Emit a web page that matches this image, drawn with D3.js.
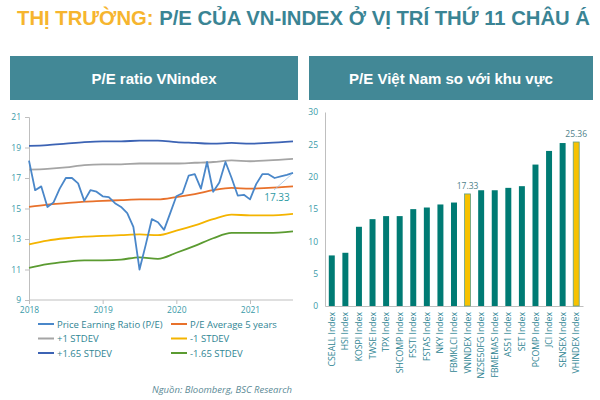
<!DOCTYPE html>
<html><head><meta charset="utf-8">
<script src="https://cdn.jsdelivr.net/npm/d3@7"></script>
<style>body{margin:0;background:#fff}svg{display:block}</style>
</head><body>
<svg id="c" width="600" height="400"></svg>
<script>
// ---------- DATA ----------
const peMonths = d3.range(44); // Jan 2018 .. Aug 2021 (month offsets)
const peValues = [18.14,16.2,16.45,15.1,15.4,16.3,17.0,17.0,16.65,15.5,16.2,16.1,
  15.8,15.75,15.35,15.1,14.7,13.8,11.0,12.6,14.3,14.1,13.6,14.7,
  15.8,16.0,17.15,17.25,16.3,18.05,16.1,16.7,18.05,17.0,15.85,15.9,
  15.6,16.6,17.25,17.25,17.0,17.1,17.2,17.33];
const bandMonths = [0,3,6,9,12,15,18,21,24,27,30,33,36,39,43];
const plus165 = [19.1,19.15,19.25,19.35,19.4,19.4,19.45,19.45,19.35,19.3,19.25,19.3,19.25,19.3,19.4];
const plus1 = [17.55,17.6,17.7,17.85,17.9,17.9,17.95,17.95,17.95,18.0,18.05,18.15,18.1,18.15,18.25];
const avg5 = [15.1,15.25,15.35,15.45,15.5,15.55,15.6,15.6,15.75,15.95,16.2,16.35,16.3,16.35,16.45];
const minus1 = [12.65,12.9,13.05,13.15,13.2,13.25,13.3,13.25,13.55,13.9,14.3,14.6,14.55,14.55,14.65];
const minus165 = [11.1,11.35,11.5,11.6,11.6,11.65,11.8,11.7,12.1,12.55,13.05,13.4,13.4,13.4,13.5];
const yearTicks = [2018,2019,2020,2021];
const peTicks = [9,11,13,15,17,19,21];
const legendNames = ["Price Earning Ratio (P/E)","P/E Average 5 years","+1 STDEV","-1 STDEV","+1.65 STDEV","-1.65 STDEV"];

const barCategories = ["CSEALL Index","HSI Index","KOSPI Index","TWSE Index","TPX Index","SHCOMP Index","FSSTI Index","FSTAS Index","NKY Index","FBMKLCI Index","VNINDEX Index","NZSE50FG Index","FBMEMAS Index","AS51 Index","SET Index","PCOMP Index","JCI Index","SENSEX Index","VHINDEX Index"];
const barValues = [7.82,8.23,12.25,13.43,13.9,13.9,14.98,15.23,15.7,16.0,17.33,17.9,17.9,18.27,18.53,21.87,23.98,25.2,25.36];
const barHighlight = ["VNINDEX Index","VHINDEX Index"];
const barTicks = [0,5,10,15,20,25,30];

// ---------- DRAW ----------
const svg = d3.select("#c");
const teal = "#3a8494", tickCol = "#3a9aa8", axisCol = "#bfbfbf";

// Title
const title = svg.append("text").attr("x",17).attr("y",25)
  .attr("font-family","'Liberation Sans Narrow','Arial Narrow',sans-serif")
  .attr("font-weight","bold").attr("font-size",20)
  .attr("textLength",573).attr("lengthAdjust","spacingAndGlyphs");
title.append("tspan").attr("fill","#f6b52e").text("THỊ TRƯỜNG: ");
title.append("tspan").attr("fill",teal).text("P/E CỦA VN-INDEX Ở VỊ TRÍ THỨ 11 CHÂU Á");

// Header boxes
[[10,298,"P/E ratio VNindex"],[309,593,"P/E Việt Nam so với khu vực"]].forEach(([x0,x1,t])=>{
  svg.append("rect").attr("x",x0).attr("y",56).attr("width",x1-x0).attr("height",44).attr("fill","#428896");
  svg.append("text").attr("x",(x0+x1)/2).attr("y",84).attr("text-anchor","middle")
    .attr("fill","#fff").attr("font-family","'Liberation Sans',Arial,sans-serif")
    .attr("font-weight","bold").attr("font-size",15).text(t);
});

// ---- Left chart ----
const x = d3.scaleLinear().domain([0,43]).range([29, 293]);
const xYear = d3.scaleLinear().domain([2018,2021]).range([29, 250]);
const y = d3.scaleLinear().domain([9,21]).range([300,117]);
const gL = svg.append("g");
const yAx = gL.append("g").attr("transform","translate(29,0)")
  .call(d3.axisLeft(y).tickValues(peTicks).tickSize(4).tickPadding(4));
const xAx = gL.append("g").attr("transform","translate(0,300)")
  .call(d3.axisBottom(xYear).tickValues(yearTicks).tickFormat(d3.format("d")).tickSize(4).tickPadding(3));
[yAx,xAx].forEach(a=>{
  a.select(".domain").attr("stroke",axisCol);
  a.selectAll(".tick line").attr("stroke",axisCol);
  a.selectAll("text").attr("fill",tickCol).attr("font-family","'Open Sans',sans-serif").attr("font-size",8.5);
});
xAx.select(".domain").attr("d","M29,0H293");

const bands = [
  {vals:plus165,color:"#3c63b4"},
  {vals:plus1,color:"#a5a5a5"},
  {vals:avg5,color:"#e8712b"},
  {vals:minus1,color:"#f4b400"},
  {vals:minus165,color:"#5b9b31"}
];
const bandLine = d3.line().x((d,i)=>x(bandMonths[i])).y(d=>y(d)).curve(d3.curveMonotoneX);
bands.forEach(b=>{
  gL.append("path").datum(b.vals).attr("d",bandLine).attr("fill","none")
    .attr("stroke",b.color).attr("stroke-width",1.8);
});
const peLine = d3.line().x((d,i)=>x(peMonths[i])).y(d=>y(d));
gL.append("path").datum(peValues).attr("d",peLine).attr("fill","none")
  .attr("stroke","#4a87c9").attr("stroke-width",1.8).attr("stroke-linejoin","round");

// annotation
const lastI = peValues.length-1;
gL.append("line").attr("x1",x(peMonths[lastI])-1).attr("y1",y(peValues[lastI])+1)
  .attr("x2",274).attr("y2",190).attr("stroke","#9cc3e6").attr("stroke-width",0.8);
gL.append("text").attr("x",277).attr("y",201).attr("text-anchor","middle")
  .attr("fill","#2e9aa4").attr("font-family","'Open Sans',sans-serif").attr("font-size",10)
  .text(d3.format(".2f")(peValues[lastI]));

// legend
const legColors = ["#4a87c9","#e8712b","#a5a5a5","#f4b400","#3c63b4","#5b9b31"];
legendNames.forEach((n,i)=>{
  const col = i%2, row = Math.floor(i/2);
  const lx = col===0 ? 38 : 171, ly = 324 + row*14.5;
  gL.append("line").attr("x1",lx).attr("x2",lx+16).attr("y1",ly).attr("y2",ly)
    .attr("stroke",legColors[i]).attr("stroke-width",2);
  gL.append("text").attr("x",lx+19).attr("y",ly+3.5).attr("fill","#2f8593")
    .attr("font-family","'Open Sans',sans-serif").attr("font-size",9.5).text(n);
});
gL.append("text").attr("x",292).attr("y",393).attr("text-anchor","end")
  .attr("fill","#5b8a96").attr("font-style","italic")
  .attr("font-family","'Open Sans',sans-serif").attr("font-size",9.5)
  .text("Nguồn: Bloomberg, BSC Research");

// ---- Right chart ----
const xb = d3.scaleBand().domain(barCategories).range([325, 583]).paddingInner(0.56).paddingOuter(0.28);
const yb = d3.scaleLinear().domain([0,30]).range([306,112]);
const gR = svg.append("g");
const ybAx = gR.append("g").attr("transform","translate(325,0)")
  .call(d3.axisLeft(yb).tickValues(barTicks).tickSize(0).tickPadding(7));
ybAx.select(".domain").attr("stroke",axisCol);
ybAx.selectAll("text").attr("fill",tickCol).attr("font-family","'Open Sans',sans-serif").attr("font-size",8.5);
const xbAx = gR.append("g").attr("transform","translate(0,306)")
  .call(d3.axisBottom(xb).tickSize(0).tickPadding(4));
xbAx.select(".domain").attr("stroke",axisCol);
xbAx.selectAll("text").attr("fill","#2f8593").attr("font-family","'Open Sans',sans-serif").attr("font-size",8.7)
  .attr("text-anchor","end").attr("dy","0.35em").attr("transform","rotate(-90) translate(-6,0)");
xbAx.selectAll("text").attr("x",0).attr("y",0);

gR.selectAll("rect.bar").data(barCategories).join("rect").attr("class","bar")
  .attr("x",d=>xb(d)).attr("width",xb.bandwidth())
  .attr("y",(d,i)=>yb(barValues[i])).attr("height",(d,i)=>yb(0)-yb(barValues[i]))
  .attr("fill",d=>barHighlight.includes(d)?"#f7c200":"#007b74")
  .attr("stroke",d=>barHighlight.includes(d)?"#5e9e8a":"none").attr("stroke-width",0.8);
gR.selectAll("text.lbl").data(barCategories.filter(d=>barHighlight.includes(d))).join("text").attr("class","lbl")
  .attr("x",d=>xb(d)+xb.bandwidth()/2).attr("y",d=>yb(barValues[barCategories.indexOf(d)])-5)
  .attr("text-anchor","middle").attr("fill","#4f7f8a")
  .attr("font-family","'Open Sans',sans-serif").attr("font-size",8.5)
  .text(d=>d3.format(".2f")(barValues[barCategories.indexOf(d)]));
</script>
</body></html>
